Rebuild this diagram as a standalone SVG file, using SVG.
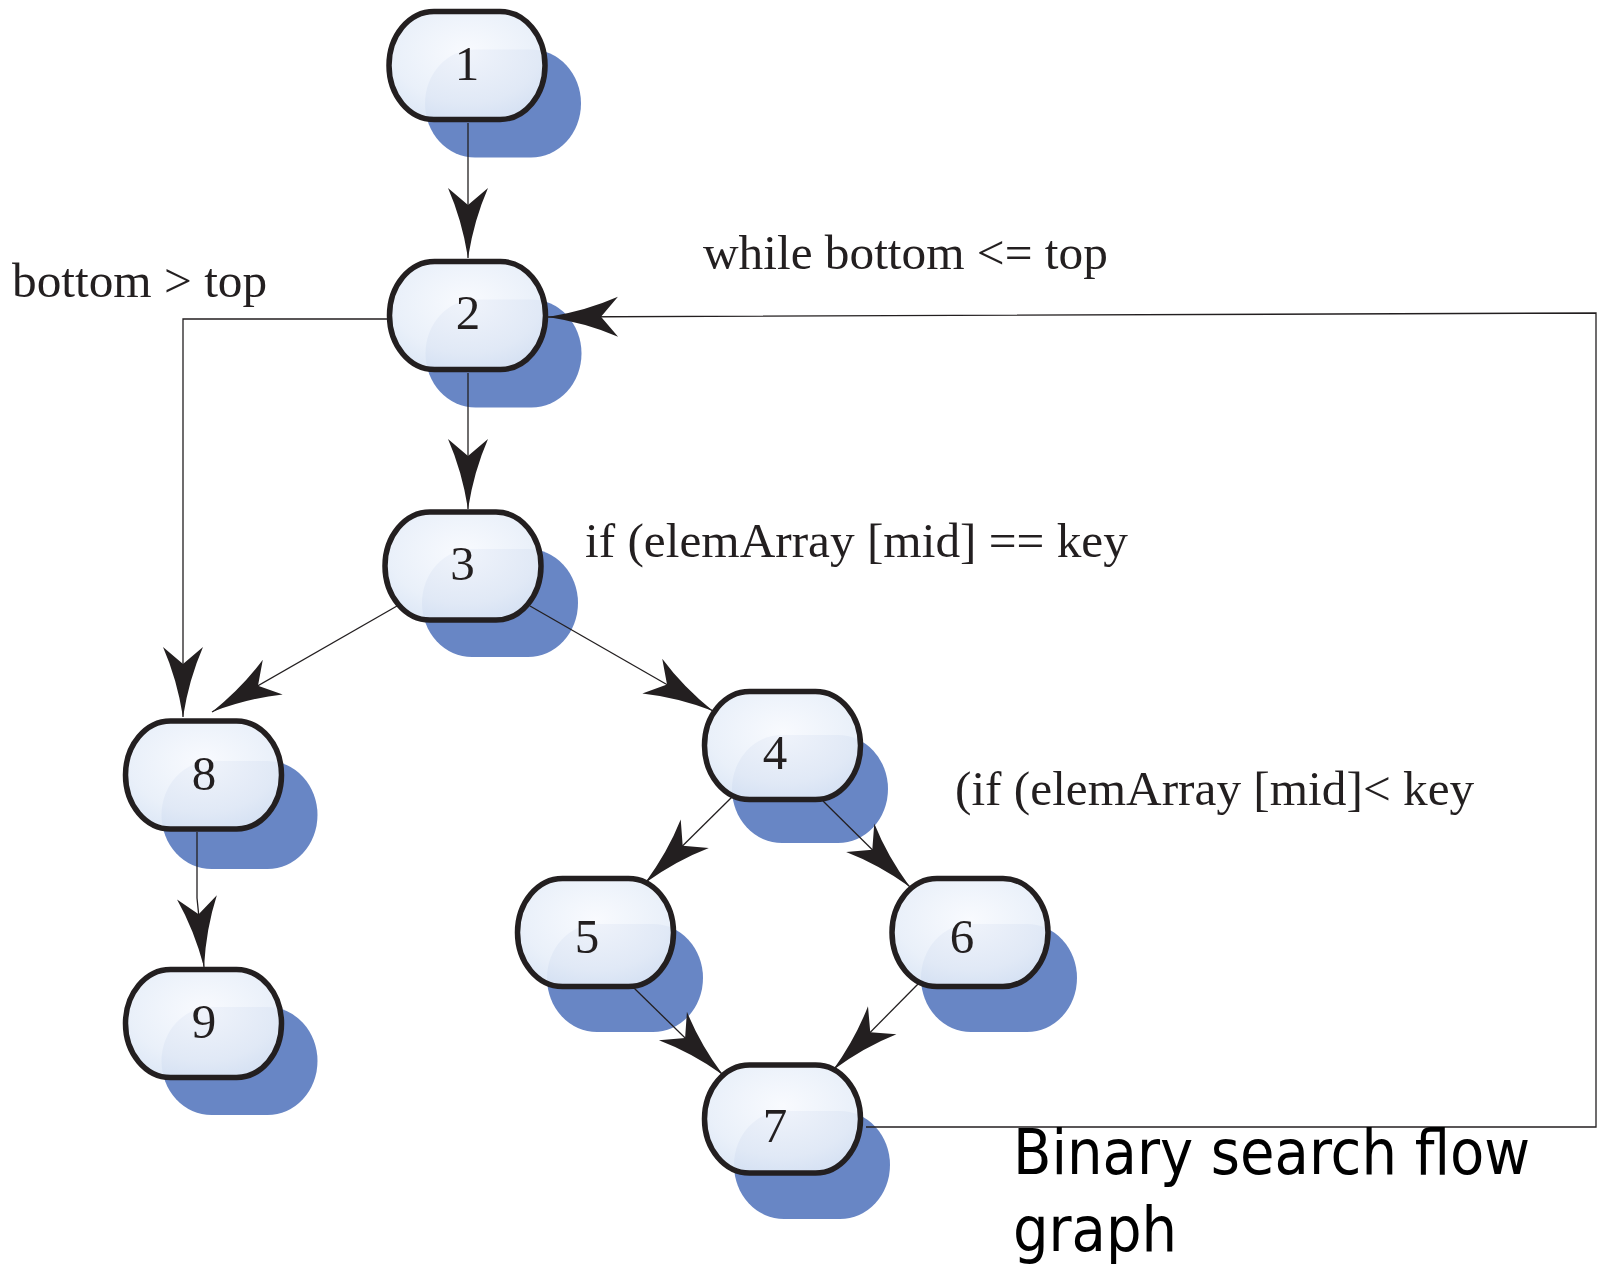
<svg xmlns="http://www.w3.org/2000/svg" width="1599" height="1264" viewBox="0 0 1599 1264">
  <style>
    .shadow { fill: #6886c5; }
    .node { fill: url(#nodeFill); fill-opacity: 0.94; stroke: #231f20; stroke-width: 5.5; }
    .num { font-family: "Liberation Serif", "Times New Roman", serif; font-size: 49px; fill: #231f20; text-anchor: middle; }
    .lbl { font-family: "Liberation Serif", "Times New Roman", serif; font-size: 49.3px; fill: #231f20; }
    .title { font-family: "DejaVu Sans Condensed", "DejaVu Sans", sans-serif; font-stretch: condensed; font-size: 62.3px; fill: #000000; }
    .edge { fill: none; stroke: #231f20; stroke-width: 1.3; marker-end: url(#arrow); }
  </style>
  <defs>
    <radialGradient id="nodeFill" cx="0.5" cy="0.38" r="0.72">
      <stop offset="0" stop-color="#f8fafe"/>
      <stop offset="0.65" stop-color="#e8eff9"/>
      <stop offset="1" stop-color="#d8e4f5"/>
    </radialGradient>
    <marker id="arrow" viewBox="-72 -22 74 44" markerWidth="74" markerHeight="44" refX="0" refY="0" orient="auto" markerUnits="userSpaceOnUse" overflow="visible">
      <path d="M0,0 Q-38,-6 -70,-20 L-53,0 L-70,20 Q-38,6 0,0 Z" fill="#231f20"/>
    </marker>
  </defs>
  <rect x="0" y="0" width="1599" height="1264" fill="#ffffff"/>

  <g id="node1" transform="translate(467,65.5)">
    <rect class="shadow" x="-42" y="-16" width="156" height="108" rx="50" ry="54"/>
    <rect class="node" x="-78" y="-54" width="156" height="108" rx="45" ry="54"/>
    <text class="num" x="0" y="14.5">1</text>
  </g>
  <g id="node2" transform="translate(467.5,315.5)">
    <rect class="shadow" x="-42" y="-16" width="156" height="108" rx="50" ry="54"/>
    <rect class="node" x="-78" y="-54" width="156" height="108" rx="45" ry="54"/>
    <text class="num" x="0.5" y="13.5">2</text>
  </g>
  <g id="node3" transform="translate(463,566)">
    <rect class="shadow" x="-41" y="-17" width="156" height="108" rx="50" ry="54"/>
    <rect class="node" x="-78" y="-54" width="156" height="108" rx="45" ry="54"/>
    <text class="num" x="-0.5" y="14">3</text>
  </g>
  <g id="node4" transform="translate(782.5,745.5)">
    <rect class="shadow" x="-50.5" y="-10.5" width="156" height="108" rx="50" ry="54"/>
    <rect class="node" x="-78" y="-54" width="156" height="108" rx="45" ry="54"/>
    <text class="num" x="-7.5" y="23">4</text>
  </g>
  <g id="node5" transform="translate(595.5,932.5)">
    <rect class="shadow" x="-48.5" y="-8.5" width="156" height="108" rx="50" ry="54"/>
    <rect class="node" x="-78" y="-54" width="156" height="108" rx="45" ry="54"/>
    <text class="num" x="-8.5" y="20.5">5</text>
  </g>
  <g id="node6" transform="translate(970,932.5)">
    <rect class="shadow" x="-49" y="-8.5" width="156" height="108" rx="50" ry="54"/>
    <rect class="node" x="-78" y="-54" width="156" height="108" rx="45" ry="54"/>
    <text class="num" x="-8" y="20.5">6</text>
  </g>
  <g id="node7" transform="translate(782.5,1119)">
    <rect class="shadow" x="-48.5" y="-8" width="156" height="108" rx="50" ry="54"/>
    <rect class="node" x="-78" y="-54" width="156" height="108" rx="45" ry="54"/>
    <text class="num" x="-7.5" y="23">7</text>
  </g>
  <g id="node8" transform="translate(203.5,775)">
    <rect class="shadow" x="-42" y="-14" width="156" height="108" rx="50" ry="54"/>
    <rect class="node" x="-78" y="-54" width="156" height="108" rx="45" ry="54"/>
    <text class="num" x="0.5" y="15">8</text>
  </g>
  <g id="node9" transform="translate(203.5,1023.5)">
    <rect class="shadow" x="-42" y="-16.5" width="156" height="108" rx="50" ry="54"/>
    <rect class="node" x="-78" y="-54" width="156" height="108" rx="45" ry="54"/>
    <text class="num" x="0.5" y="14.5">9</text>
  </g>

  <g id="connectors">
    <line class="edge" x1="468" y1="123" x2="468" y2="258"/>
    <line class="edge" x1="468" y1="373" x2="468" y2="509"/>
    <polyline class="edge" points="387,319 183,319 183,717"/>
    <polyline class="edge" points="866,1127 1596,1127 1596,313 548,317"/>
    <line class="edge" x1="397" y1="606" x2="212" y2="712"/>
    <line class="edge" x1="530" y1="606" x2="713" y2="711"/>
    <line class="edge" x1="732" y1="797" x2="645" y2="883"/>
    <line class="edge" x1="823" y1="801" x2="910" y2="887"/>
    <line class="edge" x1="634" y1="988" x2="723" y2="1075"/>
    <line class="edge" x1="919" y1="983" x2="833" y2="1070"/>
    <polyline class="edge" points="197,832 197,898 204,967"/>
  </g>

  <g id="labels">
    <text class="lbl" x="703" y="269">while bottom &lt;= top</text>
    <text class="lbl" x="12" y="297">bottom &gt; top</text>
    <text class="lbl" x="585" y="557">if (elemArray [mid] == key</text>
    <text class="lbl" x="955" y="805">(if (elemArray [mid]&lt; key</text>
    <text class="title" x="1013" y="1174">Binary search flow</text>
    <text class="title" x="1013" y="1251">graph</text>
  </g>
</svg>
